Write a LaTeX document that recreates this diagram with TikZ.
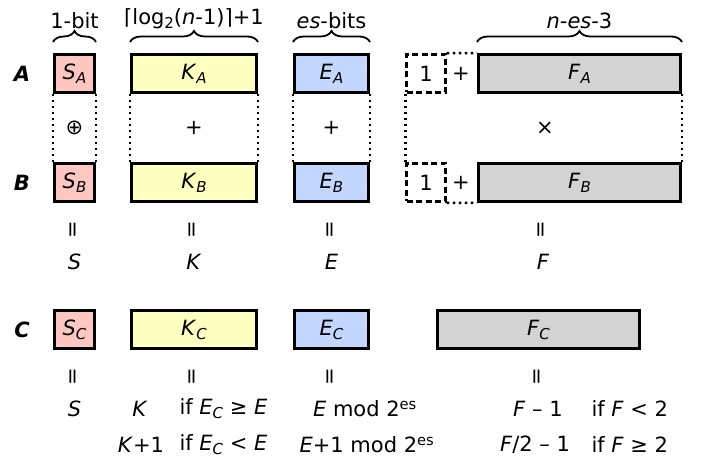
\documentclass[tikz,border=0pt]{standalone}
\usepackage{fontspec}
\setmainfont{DejaVu Sans}
\usetikzlibrary{decorations.pathreplacing}
\definecolor{SignClr}{RGB}{255,199,194}
\definecolor{RegClr}{RGB}{255,255,191}
\definecolor{ExpClr}{RGB}{194,214,255}
\definecolor{FracClr}{RGB}{211,211,211}
\newcommand{\sub}[1]{\raisebox{-0.35ex}{\fontsize{15}{15}\selectfont\itshape #1}}
\newcommand{\fld}[2]{\textit{#1}\sub{#2}}
\newcommand{\vbar}{\rotatebox{90}{=}}

\begin{document}
\begin{tikzpicture}[x=1pt,y=-1pt,font=\fontsize{21}{25}\selectfont,
  field/.style={draw,line width=3pt,inner sep=0pt,minimum height=38pt},
  hidden/.style={draw,line width=2.5pt,dash pattern=on 6pt off 3.5pt,inner sep=0pt,minimum height=38pt,minimum width=39pt},
  link/.style={line width=2.5pt,dash pattern=on 2.5pt off 3.5pt},
  brc/.style={decorate,decoration={brace,amplitude=11pt},line width=1.8pt},
  rowname/.style={font=\fontsize{21}{25}\selectfont\bfseries\itshape},
  op/.style={inner sep=1pt}]
\useasboundingbox (0,0) rectangle (702,462);

\node[rowname] (lA) at (22,74) {A};
\node[rowname] (lB) at (22,183) {B};
\node[rowname] (lC) at (22,330) {C};

\node[field,fill=SignClr,minimum width=40pt] (sA) at (74.5,73.5) {\fld{S}{A}};
\node[field,fill=RegClr,minimum width=125pt] (kA) at (194,73.5) {\fld{K}{A}};
\node[field,fill=ExpClr,minimum width=74pt] (eA) at (331.5,73.5) {\fld{E}{A}};
\node[hidden] (oneA) at (426,73.5) {1};
\node[op] (plA) at (461,74) {+};
\node[field,fill=FracClr,minimum width=202pt] (fA) at (579.5,73.5) {\fld{F}{A}};

\node[field,fill=SignClr,minimum width=40pt] (sB) at (74.5,182.5) {\fld{S}{B}};
\node[field,fill=RegClr,minimum width=125pt] (kB) at (194,182.5) {\fld{K}{B}};
\node[field,fill=ExpClr,minimum width=74pt] (eB) at (331.5,182.5) {\fld{E}{B}};
\node[hidden] (oneB) at (426,182.5) {1};
\node[op] (plB) at (461,183) {+};
\node[field,fill=FracClr,minimum width=202pt] (fB) at (579.5,182.5) {\fld{F}{B}};

\node[field,fill=SignClr,minimum width=40pt] (sC) at (74.5,330) {\fld{S}{C}};
\node[field,fill=RegClr,minimum width=125pt] (kC) at (194,330) {\fld{K}{C}};
\node[field,fill=ExpClr,minimum width=74pt] (eC) at (331.5,330) {\fld{E}{C}};
\node[field,fill=FracClr,minimum width=202pt] (fC) at (538.5,330) {\fld{F}{C}};

\draw[brc] ([yshift=11pt]sA.north west) -- ([yshift=11pt]sA.north east) node[midway,above=9pt] {1-bit};
\draw[brc] ([yshift=11pt]kA.north west) -- ([yshift=11pt]kA.north east) node[midway,above=9pt] {⌈log\sub{\upshape 2}(\textit{n}-1)⌉+1};
\draw[brc] ([yshift=11pt]eA.north west) -- ([yshift=11pt]eA.north east) node[midway,above=9pt] {\textit{es}-bits};
\draw[brc] ([yshift=11pt]fA.north west) -- ([yshift=11pt]fA.north east) node[midway,above=9pt] {\textit{n}-\textit{es}-3};

\draw[link] (sA.south west) -- (sB.north west);
\draw[link] (sA.south east) -- (sB.north east);
\draw[link] (kA.south west) -- (kB.north west);
\draw[link] (kA.south east) -- (kB.north east);
\draw[link] (eA.south west) -- (eB.north west);
\draw[link] (eA.south east) -- (eB.north east);
\draw[link] (oneA.south west) -- (oneB.north west);
\draw[link] (fA.south east) -- (fB.north east);
\draw[link] (oneA.north east) -- (fA.north west);
\draw[link] (oneB.south east) -- (fB.south west);

\node[op] (xorS) at (74.5,128) {⊕};
\node[op] (addK) at (194,128) {+};
\node[op] (addE) at (331.5,128) {+};
\node[op] (mulF) at (545,128) {×};

\node (eqS) at (74.5,230) {\vbar};
\node (eqK) at (194,230) {\vbar};
\node (eqE) at (331.5,230) {\vbar};
\node (eqF) at (543,230) {\vbar};
\node (vS) at (74.5,262) {\textit{S}};
\node (vK) at (194,262) {\textit{K}};
\node (vE) at (331.5,262) {\textit{E}};
\node (vF) at (543,262) {\textit{F}};

\node (eqSC) at (74.5,377) {\vbar};
\node (eqKC) at (194,377) {\vbar};
\node (eqEC) at (331.5,377) {\vbar};
\node (eqFC) at (538.5,377) {\vbar};

\node (rS) at (74.5,409) {\textit{S}};
\node (rK1) at (140,409) {\textit{K}};
\node (rK2) at (141,445) {\textit{K}+1};
\node[anchor=west] (cK1) at (176,409) {if \fld{E}{C} ≥ \textit{E}};
\node[anchor=west] (cK2) at (176,445) {if \fld{E}{C} < \textit{E}};
\node (rE1) at (365,409) {\textit{E} mod 2\textsuperscript{es}};
\node (rE2) at (367,445) {\textit{E}+1 mod 2\textsuperscript{es}};
\node (rF1) at (538,409) {\textit{F} – 1};
\node (rF2) at (535,445) {\textit{F}/2 – 1};
\node[anchor=west] (cF1) at (588,409) {if \textit{F} < 2};
\node[anchor=west] (cF2) at (588,445) {if \textit{F} ≥ 2};
\end{tikzpicture}
\end{document}
